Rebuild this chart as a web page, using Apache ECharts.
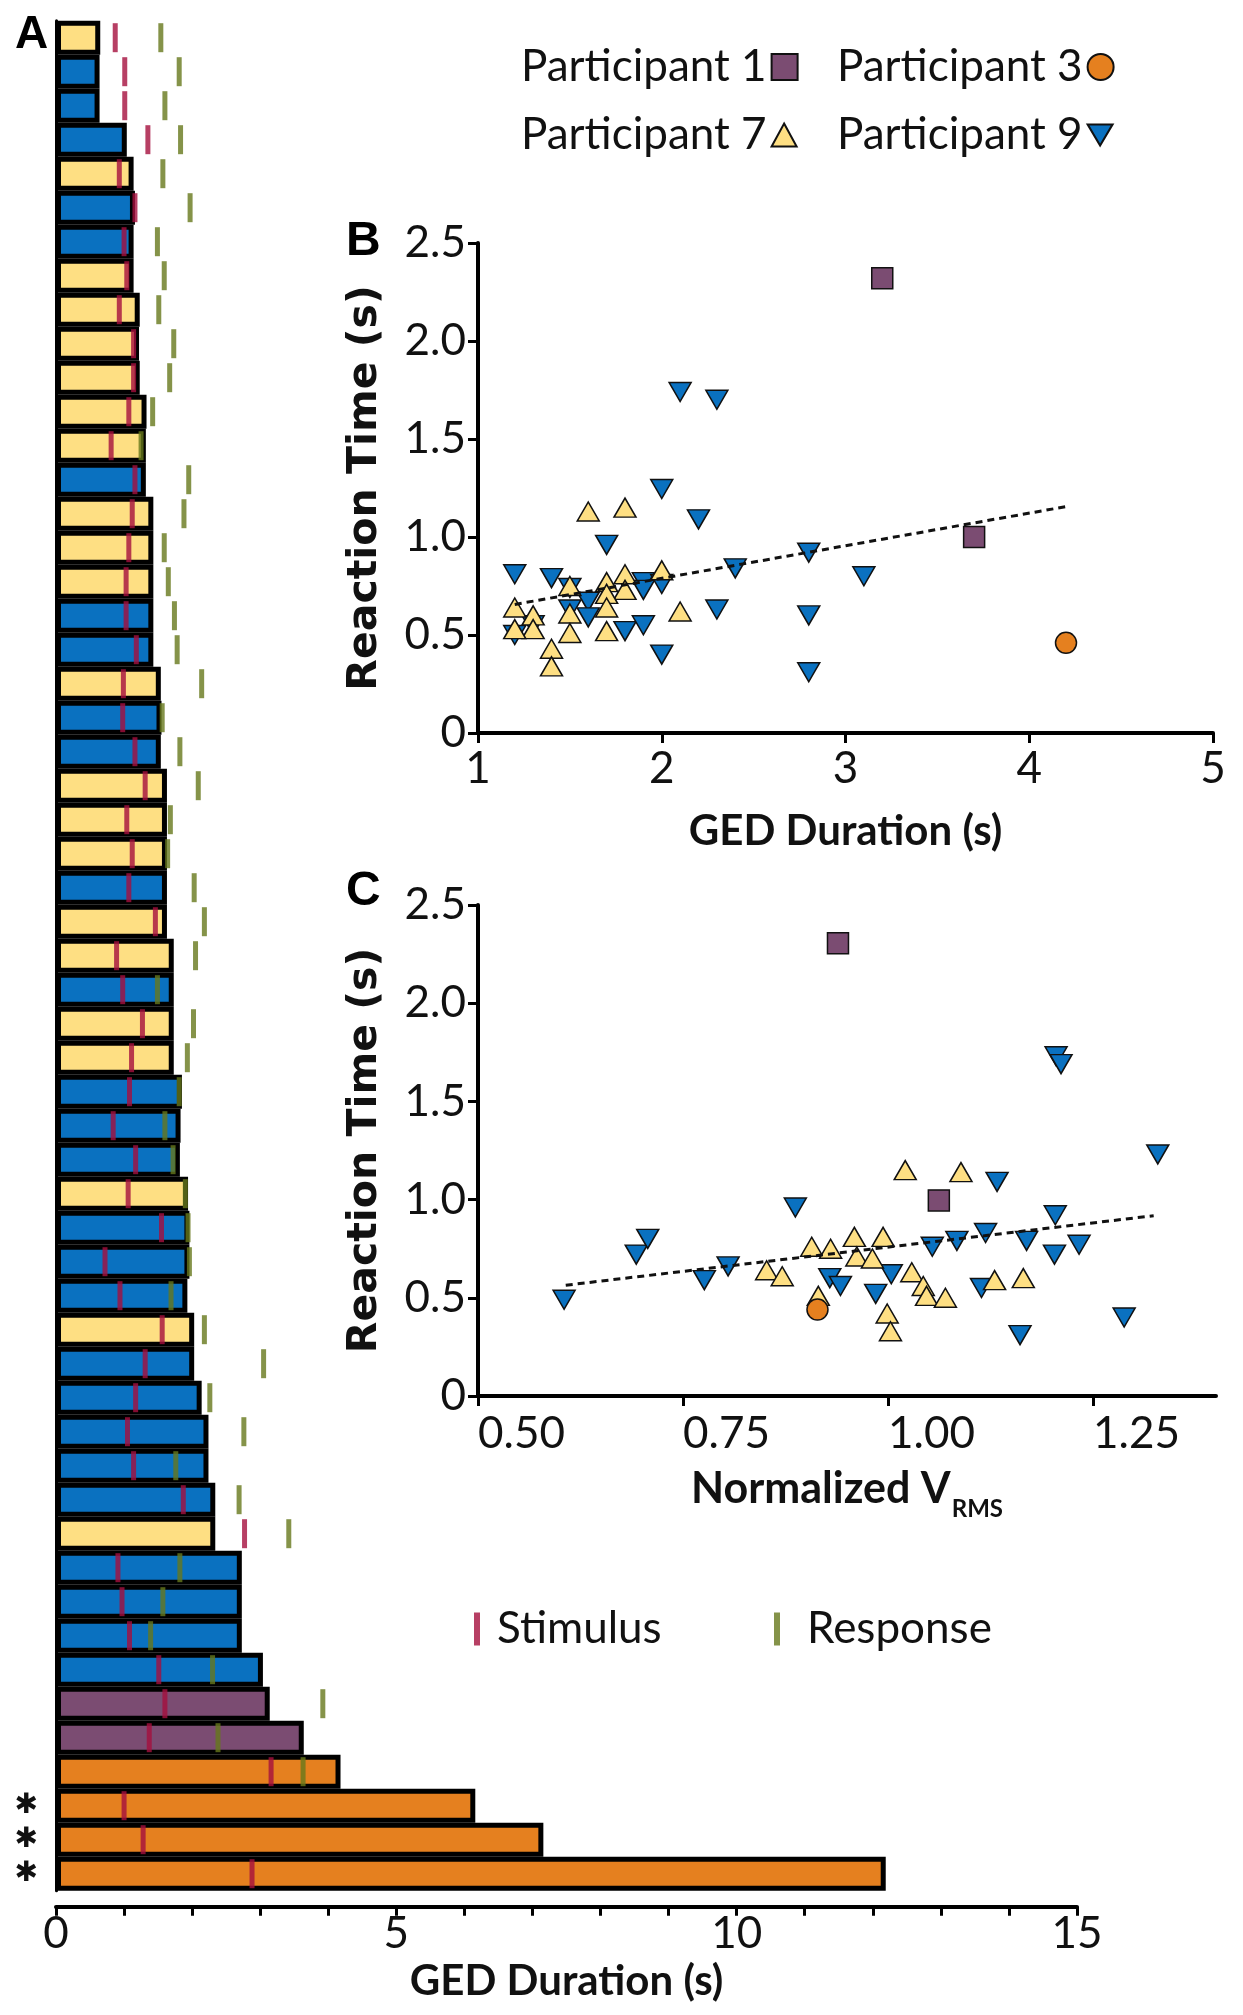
<!DOCTYPE html>
<html><head><meta charset="utf-8">
<script src="https://cdn.jsdelivr.net/npm/echarts@6/dist/echarts.min.js"></script>
<style>html,body{margin:0;padding:0;background:#fff}#c{width:1243px;height:2015px}</style>
</head><body><div id="c"></div>
<script>
// ---------- Panel A data (one row per GED event, top to bottom) ----------
const rowParticipant = [7,9,9,9,7,9,9,7,7,7, 7,7,7,9,7,7,7,9,9,7, 9,9,7,7,7,9,7,7,9,7, 7,9,9,9,7,9,9,9,7,9, 9,9,9,9,7,9,9,9,9,1, 1,3,3,3,3];
const gedDuration = [0.65,0.64,0.64,1.04,1.14,1.16,1.14,1.14,1.23,1.22, 1.23,1.33,1.32,1.32,1.43,1.43,1.43,1.43,1.43,1.54, 1.55,1.54,1.63,1.63,1.63,1.63,1.63,1.73,1.73,1.73, 1.73,1.85,1.83,1.82,1.94,1.96,1.96,1.93,2.03,2.03, 2.14,2.24,2.24,2.34,2.34,2.73,2.73,2.73,3.04,3.14, 3.64,4.18,6.16,7.16,12.19];
const stimulusTime = [0.87,1.01,1.01,1.35,0.93,1.16,1.00,1.04,0.93,1.14, 1.14,1.07,0.81,1.16,1.12,1.07,1.03,1.03,1.18,0.99, 0.98,1.16,1.31,1.04,1.12,1.07,1.46,0.89,0.98,1.27, 1.11,1.08,0.84,1.17,1.06,1.55,0.72,0.94,1.56,1.31, 1.17,1.05,1.14,1.87,2.77,0.91,0.97,1.08,1.51,1.60, 1.37,3.16,1.00,1.28,2.88];
const responseTime = [1.54,1.81,1.60,1.83,1.57,1.97,1.49,1.59,1.51,1.73, 1.67,1.42,1.25,1.95,1.88,1.59,1.65,1.74,1.78,2.14, 1.56,1.82,2.09,1.68,1.64,2.03,2.18,2.05,1.49,2.02, 1.93,1.81,1.60,1.72,1.90,1.94,1.96,1.69,2.18,3.05, 2.26,2.76,1.76,2.69,3.42,1.82,1.57,1.39,2.30,3.92, 2.38,3.63,null,null,null];
const asteriskRows = [53,54,55];
const ticksA = [0,1,2,3,4,5,6,7,8,9,10,11,12,13,14,15];
const labelsA = [0,5,10,15];

// ---------- Panel B data: [GED duration (s), reaction time (s)] ----------
const p9B = [[2.1,1.74],[2.3,1.70],[2.0,1.245],[2.2,1.09],[1.7,0.96],[2.8,0.92],[2.4,0.84],[3.1,0.80],[1.2,0.81],[1.4,0.79],[1.9,0.77],[2.0,0.76],[1.9,0.73],[1.5,0.74],[1.6,0.67],[1.6,0.59],[2.3,0.63],[2.8,0.60],[1.5,0.63],[1.8,0.52],[1.9,0.55],[1.2,0.50],[2.0,0.40],[2.8,0.31],[1.3,0.55]];
const p7B = [[1.6,1.13],[1.8,1.15],[2.0,0.83],[1.8,0.81],[1.7,0.77],[1.5,0.75],[1.8,0.73],[1.7,0.71],[1.2,0.64],[1.7,0.64],[2.1,0.62],[1.3,0.60],[1.5,0.61],[1.3,0.53],[1.2,0.53],[1.5,0.51],[1.7,0.52],[1.4,0.43],[1.4,0.34]];
const p1B = [[3.2,2.32],[3.7,1.00]];
const p3B = [[4.2,0.46]];
const fitB = [[1.2,0.656],[4.2,1.155]];

// ---------- Panel C data: [normalized VRMS, reaction time (s)] ----------
const p9C = [[0.605,0.49],[0.693,0.72],[0.707,0.80],[0.776,0.59],[0.805,0.66],[0.887,0.96],[0.929,0.60],[0.942,0.56],[0.985,0.52],[1.004,0.62],[1.054,0.76],[1.084,0.79],[1.119,0.83],[1.133,1.09],[1.114,0.55],[1.169,0.79],[1.161,0.31],[1.204,0.92],[1.205,1.73],[1.211,1.69],[1.203,0.72],[1.233,0.77],[1.288,0.40],[1.329,1.23]];
const p7C = [[1.021,1.15],[1.089,1.14],[0.907,0.76],[0.930,0.75],[0.959,0.81],[0.994,0.81],[0.962,0.71],[0.981,0.70],[0.852,0.64],[0.871,0.61],[1.029,0.63],[1.043,0.56],[1.047,0.51],[1.070,0.50],[1.130,0.59],[1.165,0.60],[0.915,0.51],[0.999,0.42],[1.003,0.33]];
const p1C = [[0.939,2.305],[1.062,0.996]];
const p3C = [[0.914,0.44]];
const fitC = [[0.607,0.564],[1.324,0.918]];
const ticksC = [0.5,0.75,1.0,1.25];

// ---------- styling ----------
const FONT = 'Lato, "Open Sans", sans-serif';
const TITLEFONT = '"DejaVu Sans", Verdana, sans-serif';
const pColor = {1:'#7B4C72', 3:'#E5801F', 7:'#FEDF83', 9:'#0A71C0'};
const STIM = '#A50F3D', RESP = '#67781C';
const downTri = 'path://M0,0L20,0L10,17Z';

const rowCats = rowParticipant.map((p,i)=>String(i+1));
const barData = gedDuration.map((v,i)=>({value:v, itemStyle:{color:pColor[rowParticipant[i]]}}));
const stimData = stimulusTime.map((v,i)=>[v,i]);
const respData = responseTime.map((v,i)=>v==null?null:[v,i]).filter(d=>d);

const tickLbl = {fontSize:44, fontFamily:FONT, color:'#111'};
const rtFmt = v => v===0 ? '0' : v.toFixed(1);
const axLine = {show:true, onZero:false, lineStyle:{color:'#000', width:4}};
const axTick = {show:true, length:10, lineStyle:{color:'#000', width:3}};
const titleStyle = {fontSize:42, fontWeight:'bold', fontFamily:FONT, color:'#111'};
const rtTitle = {fontSize:41, fontWeight:'bold', fontFamily:TITLEFONT, color:'#111'};

function scat(name, data, xi, symbol, rot){
  return {type:'scatter', name, data, xAxisIndex:xi, yAxisIndex:xi,
    symbol, symbolRotate:rot||0, symbolSize: symbol==='triangle'?[22,19]:21,
    itemStyle:{color:pColor[name.slice(-1)], borderColor:'#111', borderWidth:1.5, opacity:1}, z:3};
}

const option = {
  animation:false,
  backgroundColor:'#fff',
  textStyle:{fontFamily:FONT},
  grid:[
    {left:56, top:20.7, width:1021, height:1870},
    {left:478, top:243, width:735, height:490},
    {left:478, top:905, width:738, height:491}
  ],
  xAxis:[
    {gridIndex:0, type:'value', min:0, max:15, interval:1, offset:16,
      axisLine:axLine, axisTick:{show:true, length:9, customValues:ticksA, lineStyle:{color:'#000', width:3}},
      axisLabel:Object.assign({customValues:labelsA, margin:5}, tickLbl), splitLine:{show:false},
      name:'GED Duration (s)', nameLocation:'middle', nameGap:52, nameTextStyle:titleStyle},
    {gridIndex:1, type:'value', min:1, max:5, interval:1,
      axisLine:axLine, axisTick:axTick, axisLabel:Object.assign({margin:14}, tickLbl), splitLine:{show:false},
      name:'GED Duration (s)', nameLocation:'middle', nameGap:77, nameTextStyle:titleStyle},
    {gridIndex:2, type:'value', min:0.5, max:1.4,
      axisLine:axLine, axisTick:Object.assign({customValues:ticksC}, axTick),
      axisLabel:Object.assign({customValues:ticksC, margin:16, align:'left', formatter:v=>v.toFixed(2)}, tickLbl),
      splitLine:{show:false},
      name:'{a|Normalized V}{b|RMS}', nameLocation:'middle', nameGap:58,
      nameTextStyle:{rich:{
        a:{fontSize:43, fontWeight:'bold', fontFamily:FONT, color:'#111', lineHeight:46},
        b:{fontSize:24, fontWeight:'bold', fontFamily:FONT, color:'#111', lineHeight:26, padding:[40,0,0,1]}
      }}}
  ],
  yAxis:[
    {gridIndex:0, type:'category', data:rowCats, inverse:true,
      axisLine:{show:true, lineStyle:{color:'#000', width:3}}, axisTick:{show:false},
      axisLabel:{interval:0, margin:18, fontSize:28, fontFamily:'"DejaVu Sans"', fontWeight:'bold', color:'#111',
        formatter:(v)=> asteriskRows.includes(+v) ? '\u2731' : ''}},
    {gridIndex:1, type:'value', min:0, max:2.5, interval:0.5,
      axisLine:axLine, axisTick:axTick, axisLabel:Object.assign({margin:12, formatter:rtFmt}, tickLbl), splitLine:{show:false},
      name:'Reaction Time (s)', nameLocation:'middle', nameRotate:90, nameGap:92, nameTextStyle:rtTitle},
    {gridIndex:2, type:'value', min:0, max:2.5, interval:0.5,
      axisLine:axLine, axisTick:axTick, axisLabel:Object.assign({margin:12, formatter:rtFmt}, tickLbl), splitLine:{show:false},
      name:'Reaction Time (s)', nameLocation:'middle', nameRotate:90, nameGap:92, nameTextStyle:rtTitle}
  ],
  legend:[
    {data:[{name:'Participant 1', icon:'rect'}], left:521, top:45, padding:0, align:'right', itemWidth:26, itemHeight:26, textStyle:{fontSize:44, fontFamily:FONT, color:'#111'}},
    {data:[{name:'Participant 3', icon:'circle'}], left:837, top:45, padding:0, align:'right', itemWidth:26, itemHeight:26, textStyle:{fontSize:44, fontFamily:FONT, color:'#111'}},
    {data:[{name:'Participant 7', icon:'triangle'}], left:521, top:113, padding:0, align:'right', itemWidth:25, itemHeight:23, textStyle:{fontSize:44, fontFamily:FONT, color:'#111'}},
    {data:[{name:'Participant 9', icon:downTri}], left:837, top:113, padding:0, align:'right', itemWidth:25, itemHeight:23, textStyle:{fontSize:44, fontFamily:FONT, color:'#111'}},
    {data:[{name:'Stimulus', icon:'rect'}], left:474, top:1607, padding:0, itemWidth:6, itemHeight:33, textStyle:{fontSize:44, fontFamily:FONT, color:'#111', padding:[0,0,0,12]}},
    {data:[{name:'Response', icon:'rect'}], left:774, top:1607, padding:0, itemWidth:6, itemHeight:33, textStyle:{fontSize:44, fontFamily:FONT, color:'#111', padding:[0,0,0,22]}}
  ],
  graphic:[
    {type:'text', left:15, top:12, style:{text:'A', font:'bold 46px "Liberation Sans", Arial', fill:'#000'}},
    {type:'text', left:346, top:218, style:{text:'B', font:'bold 48px "Liberation Sans", Arial', fill:'#000'}},
    {type:'text', left:346, top:868, style:{text:'C', font:'bold 48px "Liberation Sans", Arial', fill:'#000'}}
  ],
  series:[
    {type:'bar', data:barData, xAxisIndex:0, yAxisIndex:0, barWidth:34,
      itemStyle:{borderColor:'#000', borderWidth:5}, z:2, silent:true},
    {type:'scatter', name:'Stimulus', data:stimData, xAxisIndex:0, yAxisIndex:0, symbol:'rect', symbolSize:[5,29],
      itemStyle:{color:STIM}, z:4},
    {type:'scatter', name:'Response', data:respData, xAxisIndex:0, yAxisIndex:0, symbol:'rect', symbolSize:[5,29],
      itemStyle:{color:RESP}, z:4},
    // Panel B
    scat('Participant 9', p9B, 1, 'triangle', 180),
    scat('Participant 7', p7B, 1, 'triangle'),
    scat('Participant 1', p1B, 1, 'rect'),
    scat('Participant 3', p3B, 1, 'circle'),
    {type:'line', data:fitB, xAxisIndex:1, yAxisIndex:1, symbol:'none', z:5,
      lineStyle:{color:'#111', width:3, type:[7,5]}},
    // Panel C
    scat('Participant 9', p9C, 2, 'triangle', 180),
    scat('Participant 7', p7C, 2, 'triangle'),
    scat('Participant 1', p1C, 2, 'rect'),
    scat('Participant 3', p3C, 2, 'circle'),
    {type:'line', data:fitC, xAxisIndex:2, yAxisIndex:2, symbol:'none', z:5,
      lineStyle:{color:'#111', width:3, type:[7,5]}}
  ]
};
const chart = echarts.init(document.getElementById('c'), null, {renderer:'canvas'});
chart.setOption(option);
</script></body></html>
